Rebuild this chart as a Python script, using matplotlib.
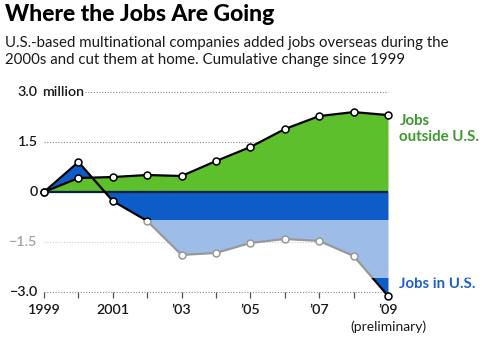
import matplotlib.pyplot as plt
from matplotlib.patches import Rectangle

plt.rcParams['font.family'] = ['Lato', 'DejaVu Sans']

# Cumulative change since 1999, millions of jobs
years = [1999, 2000, 2001, 2002, 2003, 2004, 2005, 2006, 2007, 2008, 2009]
jobs_outside = [0, 0.42, 0.45, 0.51, 0.48, 0.93, 1.35, 1.89, 2.28, 2.40, 2.31]
jobs_us = [0, 0.90, -0.27, -0.87, -1.89, -1.83, -1.53, -1.41, -1.47, -1.92, -3.12]

y_ticks = [3.0, 1.5, 0, -1.5, -3.0]
y_labels = ['3.0', '1.5', '0', '\u22121.5', '\u22123.0']
x_ticks = [1999, 2001, 2003, 2005, 2007, 2009]
x_labels = ['1999', '2001', '\u201903', '\u201905', '\u201907', '\u201909']

GREEN = '#5cbf2b'
BLUE = '#0d5cc7'
INK = '#1a1a1a'

W, H = 482, 337
fig = plt.figure(figsize=(W / 100, H / 100), dpi=100)
fig.patch.set_facecolor('white')

# axes placed so that 1999..2009 and -3.4..3.2 land where wanted
px_year = 34.4
px_unit = 33.3
x0, x1 = 1998.85, 2009.15
y0, y1 = -3.4, 3.2
left = 44 - (1999 - x0) * px_year
bottom = 192 + (-y0) * px_unit
ax = fig.add_axes([left / W, (H - bottom) / H,
                   (x1 - x0) * px_year / W, (y1 - y0) * px_unit / H])
ax.set_xlim(x0, x1)
ax.set_ylim(y0, y1)
ax.axis('off')

# dotted gridlines
for v, lab in zip(y_ticks, y_labels):
    start = 2000.2 if v == 3.0 else 1999
    ax.plot([start, 2009], [v, v], ls=(0, (1, 1.5)), color='#8a8a8a',
            lw=0.8, zorder=1)
    ax.text(1998.82, v, lab, ha='right', va='center',
            fontsize=10.3, fontweight='semibold', color=INK)
ax.text(1998.95, 3.0, 'million', ha='left', va='center', fontsize=10.3,
        fontweight='semibold', color=INK)

# year ticks hanging from the bottom gridline
ax.vlines(years, -3.0, -3.18, color='#555555', lw=0.9, zorder=1)
for x, lab in zip(x_ticks, x_labels):
    ax.text(x, -3.36, lab, ha='center', va='top', fontsize=10.3,
            fontweight='semibold', color=INK)
ax.text(2009, -3.86, '(preliminary)', ha='center', va='top', fontsize=10,
        color=INK)

# areas: US jobs behind, overseas jobs on top
ax.fill_between(years, 0, jobs_us, color=BLUE, lw=0, zorder=2, clip_on=False)
ax.fill_between(years, 0, jobs_outside, color=GREEN, lw=0, zorder=3,
                clip_on=False)
ax.hlines(0, years[0], years[-1], color='#0a2147', lw=1.6, zorder=4)

for series in (jobs_us, jobs_outside):
    ax.plot(years, series, color='black', lw=1.6, zorder=5, clip_on=False,
            marker='o', ms=5, mfc='white', mec='black', mew=1.1)

ax.text(2009.33, 1.9, 'Jobs\noutside U.S.', ha='left', va='center',
        fontsize=10.8, fontweight='bold', color='#3a9a2c', linespacing=1.15)
ax.text(2009.33, -2.77, 'Jobs in U.S.', ha='left', va='center',
        fontsize=10.8, fontweight='bold', color='#1f5fc8')

# washed-out band across the lower half
fig.add_artist(Rectangle((0, (H - 278) / H), 1, 58 / H,
                         transform=fig.transFigure, facecolor='white',
                         edgecolor='none', alpha=0.6, zorder=10))

fig.text(5 / W, 1 - 4 / H, 'Where the Jobs Are Going', ha='left', va='top',
         fontsize=16.5, fontweight='black', color='black')
fig.text(5 / W, 1 - 36 / H,
         'U.S.-based multinational companies added jobs overseas during the\n'
         '2000s and cut them at home. Cumulative change since 1999',
         ha='left', va='top', fontsize=10.8, color=INK, linespacing=1.3)

fig.savefig('out.png', dpi=100)
